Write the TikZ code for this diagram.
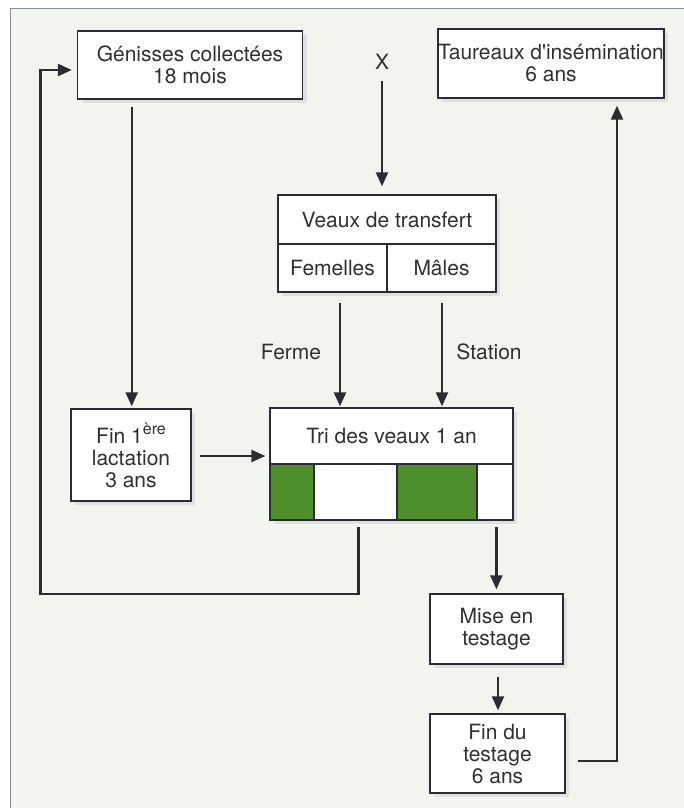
\documentclass[tikz,border=0pt]{standalone}
\usepackage{fontspec}
\setmainfont{TeX Gyre Heros}
\usetikzlibrary{calc,arrows.meta,shadows}
\definecolor{bgc}{HTML}{F1F5EE}
\definecolor{framec}{HTML}{8A8F92}
\definecolor{inkc}{HTML}{2B2B33}
\definecolor{txtc}{HTML}{303030}
\definecolor{greenc}{HTML}{4E8F2B}
\tikzset{
  box/.style={draw=inkc, line width=1.4pt, fill=white, inner sep=0pt, align=center,
    text=txtc, font=\fontsize{21}{22}\selectfont,
    drop shadow={shadow xshift=4pt, shadow yshift=-4pt, fill=black!12, opacity=1}},
  cell/.style={draw=inkc, line width=1.4pt, inner sep=0pt, minimum height=56pt},
  lbl/.style={text=txtc, font=\fontsize{21}{22}\selectfont, inner sep=0pt},
  tip/.style={-{Triangle[length=14pt,width=12pt]}},
  arr/.style={draw=inkc, line width=2.4pt, tip},
  loopline/.style={draw=inkc, line width=2.4pt}
}
\begin{document}
\begin{tikzpicture}[x=1pt,y=-1pt]
\useasboundingbox (0,0) rectangle (684,808);
\fill[bgc] (10,9) rectangle (684,808);
\draw[framec, line width=1pt] (684,9) -- (10,9) -- (10,808);

% boxes
\node[box, minimum width=225pt, minimum height=68pt] (gen) at (190,65) {Génisses collectées\\18 mois};
\node[box, minimum width=225pt, minimum height=69pt] (tau) at (551,63.5) {Taureaux d\textquotesingle insémination\\6 ans};
\node[lbl] (X) at (382,62) {X};

\node[box, minimum width=218pt, minimum height=97pt] (veaux) at (387,243.5) {};
\node[lbl] (vtop) at (387,219.5) {Veaux de transfert};
\node[lbl] (vf) at (332.5,268) {Femelles};
\node[lbl] (vm) at (441.5,268) {Mâles};
\draw[inkc, line width=1.4pt] (veaux.west |- 0,244) -- (veaux.east |- 0,244);
\draw[inkc, line width=1.4pt] (387,244) -- (veaux.south);

\node[box, minimum width=120pt, minimum height=92pt] (fin1) at (131,455) {Fin 1\raisebox{0.42em}{\fontsize{16}{16}\selectfont ère}\\lactation\\3 ans};

\node[box, minimum width=243pt, minimum height=112pt] (tribox) at (391.5,464) {};
\node[lbl] (tri) at (391.5,436) {Tri des veaux 1 an};
\node[cell, fill=greenc, minimum width=44pt] (c1) at (292,492) {};
\node[cell, fill=white, minimum width=83pt] (c2) at (355.5,492) {};
\node[cell, fill=greenc, minimum width=80pt] (c3) at (437,492) {};
\node[cell, fill=white, minimum width=36pt] (c4) at (495,492) {};

\node[box, minimum width=133pt, minimum height=70pt] (mise) at (496.5,629) {Mise en\\testage};
\node[box, minimum width=135pt, minimum height=79pt] (findu) at (497.5,753.5) {Fin du\\testage\\6 ans};

% labels
\node[lbl] (ferme) at (291,352) {Ferme};
\node[lbl] (station) at (489,352) {Station};

% connectors
\draw[arr] ($(X.south)+(0,11)$) -- ($(veaux.north -| X.south)+(0,-8)$);
\draw[arr] ($(gen.south -| 131.7,0)+(0,7)$) -- ($(fin1.north -| 131.7,0)+(0,-2)$);
\draw[arr] ($(veaux.south -| vf.south)+(7.5,10)$) -- ($(tribox.north -| vf.south)+(7.5,-1)$);
\draw[arr] ($(veaux.south -| vm.south)+(0.5,10)$) -- ($(tribox.north -| vm.south)+(0.5,-1)$);
\draw[arr] ($(fin1.east)+(8,1)$) -- ($(fin1.east -| tribox.west)+(-4,1)$);
\draw[loopline, tip]
  ($(c2.south)+(3,6)$) |- (40.6,594) |- ($(gen.west)+(-5,5)$);
\draw[arr] ($(c4.south)+(1.4,6)$) -- ($(mise.north -| c4.south)+(1.4,-4)$);
\draw[arr] ($(mise.south)+(1.5,12)$) -- ($(findu.north -| mise.south)+(1.5,-3)$);
\draw[loopline, tip]
  ($(findu.east)+(12,7.5)$) -| ($(tau.south)+(66,7)$);
\end{tikzpicture}
\end{document}
